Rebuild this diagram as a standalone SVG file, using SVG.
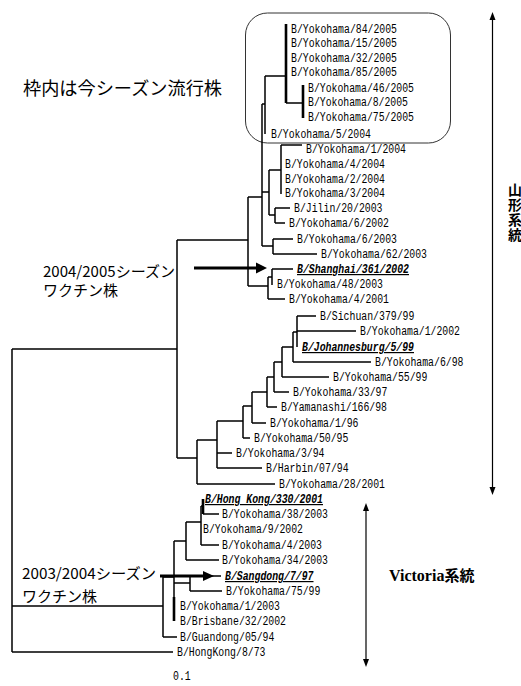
<svg xmlns="http://www.w3.org/2000/svg" width="521" height="686" viewBox="0 0 521 686">
<style>
.t{font-family:"Liberation Mono","DejaVu Sans Mono",monospace;font-size:12px;fill:#000}
.tb{font-weight:bold;font-style:italic;text-decoration:underline}
.br{stroke:#000;stroke-width:1.5;fill:none}
.thk{stroke:#000;stroke-width:2.6;fill:none}
.jp{font-family:"Noto Sans CJK JP","Noto Sans CJK SC",sans-serif;fill:#000}
.arr{stroke:#000;stroke-width:3.2;fill:none}
.thin{stroke:#000;stroke-width:1.2;fill:none}
</style>
<rect width="521" height="686" fill="#fff"/>
<g id="frame"><rect x="245.5" y="13" width="205" height="130" rx="22" fill="none" stroke="#333" stroke-width="1"/></g>
<g id="branches">
<path class="br" d="M12 349V652M12 349H177M12 606H163M12 652H173
M177 240V458M177 240H248M177 458H197
M248 197V286M248 197H262M248 286H268
M262 104V246M262 104H265M262 192H269M262 246H273
M265 76V134M265 76H286
M286 103H303
M269 170V215M269 170H281M269 215H275
M281 145V194M281 145H302
M275 208V223M275 208H290M275 223H285
M273 239V254M273 239H293M273 254H317
M268 277V299M268 277H272M268 299H285
M272 269V285M272 269H293
M197 440V484M197 440H217M197 484H275
M217 421V468M217 421H243M217 453H232M217 468H262
M243 406V438M243 406H252M243 438H250
M252 392V423M252 392H267M252 423H266
M267 377V407M267 377H274M267 407H277
M274 362V392M274 362H282M274 392H289
M282 347V377M282 347H293M282 377H329
M293 332V362M293 332H297M293 362H371
M297 316V347M297 316H316M297 331H356
M163 577V637M163 577H174M163 637H177
M174 541V621M174 541H186M174 583H190
M186 522V560M186 522H201M186 560H219
M201 506V545M201 506H203M201 545H219
M203 514H219
M190 576V591M190 576H221M190 591H222"/>
<path class="thk" d="M286 24V103M303 85V118M174 597V621M203 499V514"/>
</g>
<g id="arrows">
<path class="arr" d="M194 268H258"/>
<polygon points="256,262.5 267,268 256,273.5" fill="#000"/>
<path class="arr" d="M160 576H205"/>
<polygon points="203,571 214,576 203,581" fill="#000"/>
<path class="thin" d="M492.5 19V488"/>
<polygon points="492.5,12 489.5,20 495.5,20" fill="#000"/>
<polygon points="492.5,495 489.5,487 495.5,487" fill="#000"/>
<path class="thin" d="M366 510V660"/>
<polygon points="366,503 363,511 369,511" fill="#000"/>
<polygon points="366,667 363,659 369,659" fill="#000"/>
</g>
<g id="leaves">
<g id="l1"><text class="t" x="291" y="33" textLength="106" lengthAdjust="spacingAndGlyphs">B/Yokohama/84/2005</text></g>
<g id="l2"><text class="t" x="291" y="47" textLength="106" lengthAdjust="spacingAndGlyphs">B/Yokohama/15/2005</text></g>
<g id="l3"><text class="t" x="291" y="62" textLength="106" lengthAdjust="spacingAndGlyphs">B/Yokohama/32/2005</text></g>
<g id="l4"><text class="t" x="291" y="76" textLength="106" lengthAdjust="spacingAndGlyphs">B/Yokohama/85/2005</text></g>
<g id="l5"><text class="t" x="308" y="92" textLength="106" lengthAdjust="spacingAndGlyphs">B/Yokohama/46/2005</text></g>
<g id="l6"><text class="t" x="308" y="106" textLength="100" lengthAdjust="spacingAndGlyphs">B/Yokohama/8/2005</text></g>
<g id="l7"><text class="t" x="308" y="121" textLength="106" lengthAdjust="spacingAndGlyphs">B/Yokohama/75/2005</text></g>
<g id="l8"><text class="t" x="271" y="138" textLength="100" lengthAdjust="spacingAndGlyphs">B/Yokohama/5/2004</text></g>
<g id="l9"><text class="t" x="306" y="153" textLength="100" lengthAdjust="spacingAndGlyphs">B/Yokohama/1/2004</text></g>
<g id="l10"><text class="t" x="285" y="168" textLength="100" lengthAdjust="spacingAndGlyphs">B/Yokohama/4/2004</text></g>
<g id="l11"><text class="t" x="285" y="183" textLength="100" lengthAdjust="spacingAndGlyphs">B/Yokohama/2/2004</text></g>
<g id="l12"><text class="t" x="285" y="197" textLength="100" lengthAdjust="spacingAndGlyphs">B/Yokohama/3/2004</text></g>
<g id="l13"><text class="t" x="294" y="212" textLength="88.5" lengthAdjust="spacingAndGlyphs">B/Jilin/20/2003</text></g>
<g id="l14"><text class="t" x="289" y="227" textLength="100" lengthAdjust="spacingAndGlyphs">B/Yokohama/6/2002</text></g>
<g id="l15"><text class="t" x="297" y="243" textLength="100" lengthAdjust="spacingAndGlyphs">B/Yokohama/6/2003</text></g>
<g id="l16"><text class="t" x="321" y="258" textLength="106" lengthAdjust="spacingAndGlyphs">B/Yokohama/62/2003</text></g>
<g id="l17"><text class="t tb" x="297" y="273" textLength="112" lengthAdjust="spacingAndGlyphs">B/Shanghai/361/2002</text></g>
<g id="l18"><text class="t" x="277" y="288" textLength="106" lengthAdjust="spacingAndGlyphs">B/Yokohama/48/2003</text></g>
<g id="l19"><text class="t" x="289" y="303" textLength="100" lengthAdjust="spacingAndGlyphs">B/Yokohama/4/2001</text></g>
<g id="l20"><text class="t" x="320" y="320" textLength="94.4" lengthAdjust="spacingAndGlyphs">B/Sichuan/379/99</text></g>
<g id="l21"><text class="t" x="360" y="335" textLength="100" lengthAdjust="spacingAndGlyphs">B/Yokohama/1/2002</text></g>
<g id="l22"><text class="t tb" x="302" y="351" textLength="112" lengthAdjust="spacingAndGlyphs">B/Johannesburg/5/99</text></g>
<g id="l23"><text class="t" x="375" y="366" textLength="88.5" lengthAdjust="spacingAndGlyphs">B/Yokohama/6/98</text></g>
<g id="l24"><text class="t" x="333" y="381" textLength="94.4" lengthAdjust="spacingAndGlyphs">B/Yokohama/55/99</text></g>
<g id="l25"><text class="t" x="293" y="396" textLength="94.4" lengthAdjust="spacingAndGlyphs">B/Yokohama/33/97</text></g>
<g id="l26"><text class="t" x="281" y="411" textLength="106" lengthAdjust="spacingAndGlyphs">B/Yamanashi/166/98</text></g>
<g id="l27"><text class="t" x="270" y="427" textLength="88.5" lengthAdjust="spacingAndGlyphs">B/Yokohama/1/96</text></g>
<g id="l28"><text class="t" x="254" y="442" textLength="94.4" lengthAdjust="spacingAndGlyphs">B/Yokohama/50/95</text></g>
<g id="l29"><text class="t" x="236" y="457" textLength="88.5" lengthAdjust="spacingAndGlyphs">B/Yokohama/3/94</text></g>
<g id="l30"><text class="t" x="266" y="472" textLength="82.6" lengthAdjust="spacingAndGlyphs">B/Harbin/07/94</text></g>
<g id="l31"><text class="t" x="279" y="488" textLength="106" lengthAdjust="spacingAndGlyphs">B/Yokohama/28/2001</text></g>
<g id="l32"><text class="t tb" x="205" y="503" textLength="118" lengthAdjust="spacingAndGlyphs">B/Hong Kong/330/2001</text></g>
<g id="l33"><text class="t" x="222" y="518" textLength="106" lengthAdjust="spacingAndGlyphs">B/Yokohama/38/2003</text></g>
<g id="l34"><text class="t" x="203" y="533" textLength="100" lengthAdjust="spacingAndGlyphs">B/Yokohama/9/2002</text></g>
<g id="l35"><text class="t" x="222" y="549" textLength="100" lengthAdjust="spacingAndGlyphs">B/Yokohama/4/2003</text></g>
<g id="l36"><text class="t" x="222" y="564" textLength="106" lengthAdjust="spacingAndGlyphs">B/Yokohama/34/2003</text></g>
<g id="l37"><text class="t tb" x="225" y="580" textLength="88.5" lengthAdjust="spacingAndGlyphs">B/Sangdong/7/97</text></g>
<g id="l38"><text class="t" x="226" y="595" textLength="94.4" lengthAdjust="spacingAndGlyphs">B/Yokohama/75/99</text></g>
<g id="l39"><text class="t" x="180" y="610" textLength="100" lengthAdjust="spacingAndGlyphs">B/Yokohama/1/2003</text></g>
<g id="l40"><text class="t" x="180" y="625" textLength="106" lengthAdjust="spacingAndGlyphs">B/Brisbane/32/2002</text></g>
<g id="l41"><text class="t" x="180" y="641" textLength="94.4" lengthAdjust="spacingAndGlyphs">B/Guandong/05/94</text></g>
<g id="l42"><text class="t" x="177" y="656" textLength="88.5" lengthAdjust="spacingAndGlyphs">B/HongKong/8/73</text></g>
</g>
<g id="scale"><text class="t" x="173" y="680" textLength="17.7" lengthAdjust="spacingAndGlyphs">0.1</text></g>
<g id="notes">
<text class="jp" x="23" y="95" font-size="18" textLength="199" lengthAdjust="spacingAndGlyphs">枠内は今シーズン流行株</text>
<text class="jp" x="43" y="277" font-size="15" textLength="132" lengthAdjust="spacingAndGlyphs">2004/2005シーズン</text>
<text class="jp" x="43" y="296" font-size="15">ワクチン株</text>
<text class="jp" x="22" y="579" font-size="15" textLength="134" lengthAdjust="spacingAndGlyphs">2003/2004シーズン</text>
<text class="jp" x="22" y="602" font-size="15">ワクチン株</text>
<text x="389" y="581" font-family="'Liberation Serif',serif" font-weight="bold" font-size="16" fill="#000">Victoria<tspan font-family="'Noto Sans CJK JP',sans-serif" font-size="15">系統</tspan></text>
<text x="515" y="183" font-family="'Noto Sans CJK JP',sans-serif" font-weight="bold" font-size="14" letter-spacing="1" fill="#000" style="writing-mode:vertical-rl">山形系統</text>
</g>
</svg>
